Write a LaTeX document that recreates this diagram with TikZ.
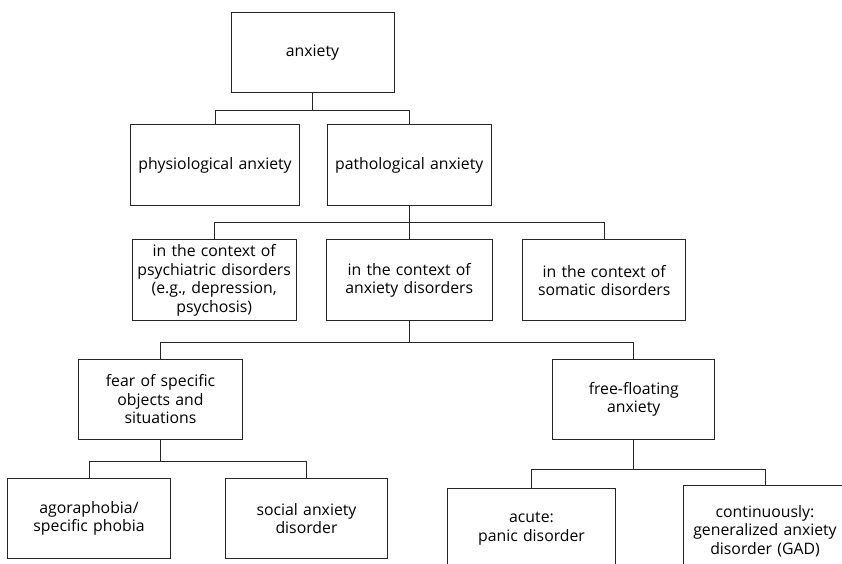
\documentclass[tikz,border=0pt]{standalone}
\usepackage{fontspec}
\setmainfont{Open Sans}
\begin{document}
\begin{tikzpicture}[x=1pt,y=-1pt,
  box/.style={draw=black!85, line width=1pt, rectangle, minimum width=164pt, minimum height=80.5pt,
    inner sep=0pt, text width=162pt, align=center, font=\fontsize{15.8}{18.4}\selectfont, text=black},
  conn/.style={draw=black!85, line width=1pt}]
\useasboundingbox (0,0) rectangle (842,563);
\node[box, minimum width=163pt] (anx) at (312.5,52.5) {anxiety};
\node[box, minimum width=169.4pt, text width=168pt] (phys) at (215,165.2) {physiological anxiety};
\node[box] (path) at (409.2,165.2) {pathological anxiety};
\node[box, minimum height=81pt] (psy) at (214.2,280.3) {in the context of\\psychiatric disorders\\(e.g., depression,\\psychosis)};
\node[box, minimum width=165.6pt, minimum height=81pt] (adis) at (409.2,280.3) {in the context of\\anxiety disorders};
\node[box, minimum width=163pt, minimum height=81pt] (som) at (604.2,280.3) {in the context of\\somatic disorders};
\node[box, minimum width=163.6pt] (fear) at (160.5,399.3) {fear of specific\\objects and\\situations};
\node[box, minimum width=160.7pt] (free) at (633.7,399.3) {free-floating\\anxiety};
\node[box, minimum width=162.6pt, minimum height=80pt] (ago) at (89,518.3) {agoraphobia/\\specific phobia};
\node[box, minimum width=161.6pt, minimum height=80pt] (soc) at (306.5,518.3) {social anxiety\\disorder};
\node[box, minimum width=167.6pt] (acu) at (531.5,528.5) {acute:\\panic disorder};
\node[box, minimum width=163.4pt, minimum height=90.6pt] (con) at (765,531) {continuously:\\generalized anxiety\\disorder (GAD)};
\coordinate (b1) at (0,110);
\coordinate (b2) at (0,222);
\coordinate (b3) at (0,342.5);
\coordinate (b4) at (0,461);
\coordinate (b5) at (0,469);
\draw[conn] (anx.south) -- (anx.south |- b1) -| (phys.north);
\draw[conn] (anx.south |- b1) -| (path.north);
\draw[conn] (path.south) -- (adis.north);
\draw[conn] (path.south |- b2) -| (psy.north);
\draw[conn] (path.south |- b2) -| (som.north);
\draw[conn] (adis.south) -- (adis.south |- b3) -| (fear.north);
\draw[conn] (adis.south |- b3) -| (free.north);
\draw[conn] (fear.south) -- (fear.south |- b4) -| (ago.north);
\draw[conn] (fear.south |- b4) -| (soc.north);
\draw[conn] (free.south) -- (free.south |- b5) -| (acu.north);
\draw[conn] (free.south |- b5) -| (con.north);
\end{tikzpicture}
\end{document}
